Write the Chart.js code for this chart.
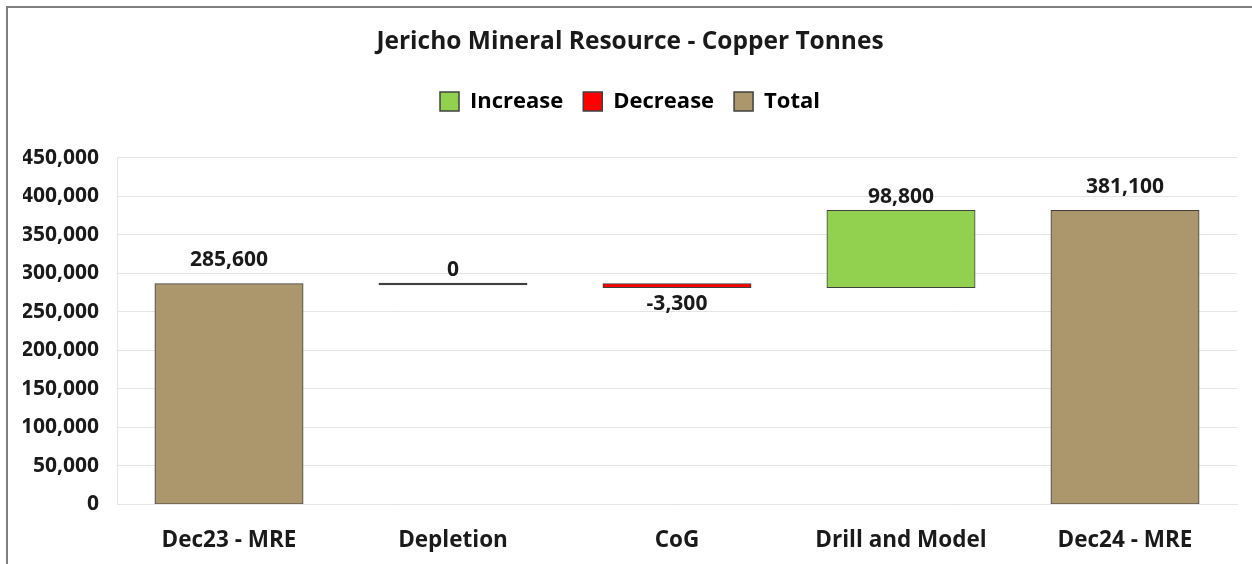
<!DOCTYPE html>
<html>
<head>
<meta charset="utf-8">
<script src="https://cdn.jsdelivr.net/npm/chart.js@4.4.1/dist/chart.umd.min.js"></script>
<style>
  html, body { margin: 0; padding: 0; background: #ffffff; }
  #wrap { width: 1252px; height: 564px; position: relative; }
</style>
</head>
<body>
<div id="wrap"><canvas id="c" width="1252" height="564"></canvas></div>
<script>
// ---- data ----
const chartTitle = 'Jericho Mineral Resource - Copper Tonnes';
const categories = ['Dec23 - MRE', 'Depletion', 'CoG', 'Drill and Model', 'Dec24 - MRE'];
const changes = [285600, 0, -3300, 98800, 381100];
const kinds = ['total', 'increase', 'decrease', 'increase', 'total'];
const legendNames = ['Increase', 'Decrease', 'Total'];
const legendKinds = ['increase', 'decrease', 'total'];
const yMin = 0;
const yMax = 450000;
const yStep = 50000;

// ---- styles ----
const FONT = '"Open Sans", Lato, sans-serif';
const kindColors = { increase: '#92D050', decrease: '#FF0000', total: '#AB976B' };
const edgeColor = '#404040';
const gridColor = '#E4E4E4';
const textColor = '#1A1A1A';

// build floating ranges from running totals
let running = 0;
const ranges = changes.map((v, i) => {
  if (kinds[i] === 'total') { running = v; return [0, v]; }
  const start = running;
  running = running + v;
  return [start, running];
});
const fmt = v => Math.round(v).toLocaleString('en-US');

const frame = {
  id: 'frame',
  beforeDraw(chart) {
    const c = chart.ctx;
    c.save();
    c.fillStyle = '#ffffff';
    c.fillRect(0, 0, chart.width, chart.height);
    c.strokeStyle = '#7F7F7F';
    c.lineWidth = 2;
    c.beginPath();
    c.moveTo(7, chart.height);
    c.lineTo(7, 7);
    c.lineTo(chart.width, 7);
    c.stroke();
    c.restore();
  }
};

const valueLabels = {
  id: 'valueLabels',
  afterDatasetsDraw(chart) {
    const c = chart.ctx;
    const meta = chart.getDatasetMeta(0);
    c.save();
    c.font = 'bold 21px ' + FONT;
    c.fillStyle = textColor;
    c.textAlign = 'center';
    c.textBaseline = 'middle';
    meta.data.forEach((bar, i) => {
      const v = changes[i];
      const top = Math.min(bar.y, bar.base);
      const bottom = Math.max(bar.y, bar.base);
      let y;
      if (kinds[i] === 'total') y = top - 24;
      else if (v < 0) y = bottom + 17;
      else y = top - 14;
      c.fillText(fmt(v), bar.x, y);
    });
    c.restore();
  }
};

new Chart(document.getElementById('c'), {
  type: 'bar',
  data: {
    labels: categories,
    datasets: [{
      data: ranges,
      backgroundColor: ctx => changes[ctx.dataIndex] === 0 ? edgeColor : kindColors[kinds[ctx.dataIndex]],
      borderColor: edgeColor,
      borderWidth: 1,
      borderSkipped: false,
      inflateAmount: 1,
      minBarLength: 0.5,
      barPercentage: 0.656,
      categoryPercentage: 1.0
    }]
  },
  options: {
    responsive: false,
    animation: false,
    devicePixelRatio: 1,
    layout: { padding: { left: 23, right: 15, top: 0, bottom: 12 } },
    plugins: {
      title: {
        display: true,
        text: chartTitle,
        color: textColor,
        font: { family: FONT, size: 24.5, weight: 'bold', lineHeight: 1.2 },
        padding: { top: 27, bottom: 14 }
      },
      subtitle: {
        display: true,
        text: '',
        weight: 500,
        font: { size: 10, lineHeight: 1 },
        padding: { top: 25.5, bottom: 0 }
      },
      legend: {
        display: true,
        position: 'top',
        labels: {
          boxWidth: 19,
          boxHeight: 19,
          padding: 20,
          color: '#595959',
          font: { family: FONT, size: 22, weight: 'bold' },
          generateLabels: () => legendNames.map((n, i) => ({
            text: n,
            fillStyle: kindColors[legendKinds[i]],
            strokeStyle: edgeColor,
            lineWidth: 1.5,
            hidden: false,
            datasetIndex: 0
          }))
        },
        onClick: () => {}
      },
      tooltip: { enabled: false }
    },
    scales: {
      x: {
        grid: { display: false, drawTicks: false },
        border: { display: true, color: gridColor },
        afterFit: s => { s.height = 48; },
        ticks: {
          color: textColor,
          padding: 23,
          font: { family: FONT, size: 22.5, weight: 'bold' },
          maxRotation: 0
        }
      },
      y: {
        min: yMin,
        max: yMax,
        grid: { color: gridColor, drawTicks: false },
        border: { display: true, color: gridColor },
        afterFit: s => { s.width = 94; },
        ticks: {
          stepSize: yStep,
          padding: 18,
          color: textColor,
          font: { family: FONT, size: 21, weight: 'bold' },
          callback: v => fmt(v)
        }
      }
    }
  },
  plugins: [frame, valueLabels]
});
</script>
</body>
</html>
